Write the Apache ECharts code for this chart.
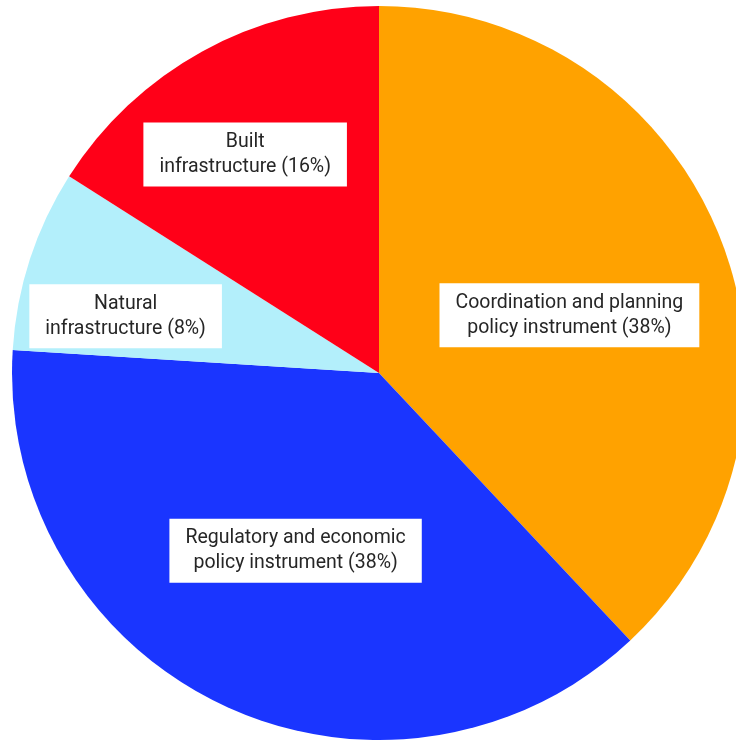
<!DOCTYPE html>
<html>
<head>
<meta charset="utf-8">
<script src="https://cdn.jsdelivr.net/npm/echarts@6/dist/echarts.min.js"></script>
<style>html,body{margin:0;padding:0;background:#fff;}#chart{width:736px;height:740px;}</style>
</head>
<body>
<div id="chart"></div>
<script>
const categories = ["Coordination and planning\npolicy instrument", "Regulatory and economic\npolicy instrument", "Natural\ninfrastructure", "Built\ninfrastructure"];
const values = [38, 38, 8, 16];
const colors = ["#FFA200", "#1A35FF", "#B3EFFB", "#FF0018"];
const labelOffsets = [[17, 11], [-4, 9], [-76, 1], [-44, -55]];

const chart = echarts.init(document.getElementById('chart'), null, {renderer: 'canvas'});
chart.setOption({
  animation: false,
  series: [{
    type: 'pie',
    center: [379, 373],
    radius: [0, 367],
    startAngle: 90,
    clockwise: true,
    avoidLabelOverlap: false,
    data: categories.map((c, i) => ({
      name: c, value: values[i],
      itemStyle: {color: colors[i]},
      label: {offset: labelOffsets[i]}
    })),
    itemStyle: {borderWidth: 0},
    label: {
      show: true,
      position: 'inside',
      formatter: p => p.name + ' (' + p.value + '%)',
      fontFamily: 'Roboto',
      fontSize: 19.5,
      lineHeight: 25,
      color: '#262626',
      backgroundColor: '#fff',
      padding: [7, 16, 7, 16],
      align: 'center'
    },
    labelLine: {show: false},
    emphasis: {disabled: true}
  }]
});
</script>
</body>
</html>
